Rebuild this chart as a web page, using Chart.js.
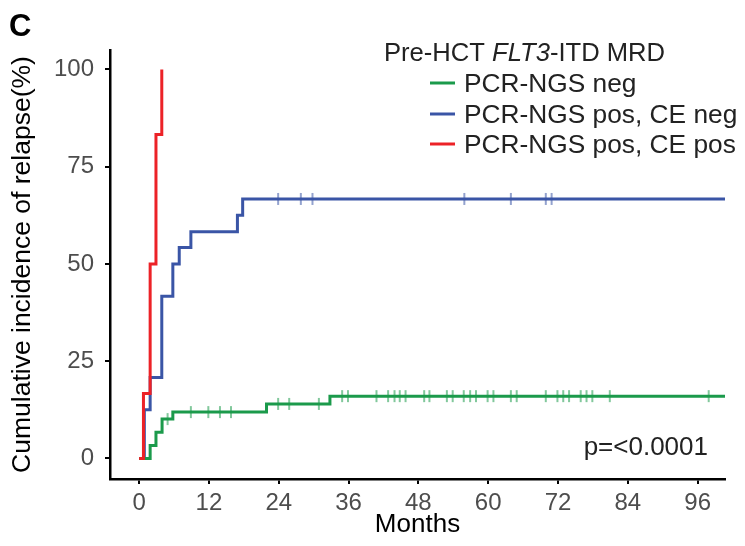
<!DOCTYPE html>
<html>
<head>
<meta charset="utf-8">
<script src="https://cdn.jsdelivr.net/npm/chart.js@4.4.0/dist/chart.umd.min.js"></script>
<style>
  html, body { margin: 0; padding: 0; background: #fff; }
  #wrap { width: 745px; height: 546px; position: relative; }
</style>
</head>
<body>
<div id="wrap"><canvas id="cirChart"></canvas></div>
<script>
// Step curves: event times (months) and cumulative incidence (%)
const negTimes = [0, 1.9, 2.9, 3.95, 5.8, 21.9, 32.8, 100.7]
const negValues = [0, 3.3, 6.7, 10.1, 11.9, 14.0, 16.0, 16.0]
const negCensor = [4.9, 8.9, 11.9, 13.9, 15.8, 23.9, 25.8, 30.9, 34.9, 35.9, 40.8, 42.8, 43.9, 44.8, 45.8,
  49.0, 49.9, 52.9, 53.9, 55.8, 56.9, 57.9, 59.9, 60.9, 63.9, 64.9, 69.9, 71.9, 72.9, 73.9, 75.9, 76.9,
  77.9, 80.9, 97.9]

const ceNegTimes = [0, 0.9, 1.9, 3.9, 5.8, 6.9, 8.9, 16.9, 17.8, 100.7]
const ceNegValues = [0, 12.5, 20.8, 41.7, 50, 54.2, 58.3, 62.5, 66.7, 66.7]
const ceNegCensor = [23.9, 27.8, 29.8, 55.9, 63.9, 69.9, 70.9]

const cePosTimes = [0, 0.75, 1.9, 2.9, 3.9]
const cePosValues = [0, 16.7, 50, 83.3, 100]

const monthTicks = [0, 12, 24, 36, 48, 60, 72, 84, 96]
const pctTicks = [0, 25, 50, 75, 100]

const seriesLabels = ["PCR-NGS neg", "PCR-NGS pos, CE neg", "PCR-NGS pos, CE pos"]
const GREEN = "#1b9a4b"
const BLUE = "#3a55a6"
const RED = "#ec2227"
const FONT = '"Liberation Sans", Arial, sans-serif'

function toPoints(times, values) {
  return times.map((t, i) => ({ x: t, y: values[i] }))
}

// censor ticks sit on the curve level at that time
function censorPoints(censor, times, values) {
  return censor.map((t) => {
    let y = values[0]
    times.forEach((tt, i) => { if (tt <= t) y = values[i] })
    return { x: t, y: y }
  })
}

function stepSet(label, data, color, order) {
  return {
    label: label,
    data: data,
    borderColor: color,
    borderWidth: 3,
    stepped: true,
    pointRadius: 0,
    fill: false,
    order: order,
  }
}

function censorSet(data, color, order) {
  return {
    data: data,
    showLine: false,
    pointStyle: "line",
    rotation: 90,
    pointRadius: 6,
    borderWidth: 2,
    borderColor: color,
    backgroundColor: color,
    order: order,
  }
}

// legend, panel letter and p value
const extrasPlugin = {
  id: "extras",
  afterDraw(chart) {
    const ctx = chart.ctx
    ctx.save()
    ctx.fillStyle = "#000"
    ctx.textBaseline = "alphabetic"
    ctx.font = "bold 31px " + FONT
    ctx.fillText("C", 9, 36)

    // legend title with italic gene name
    ctx.textBaseline = "middle"
    ctx.fillStyle = "#222"
    let x = 384
    const ty = 54
    ctx.font = "25.6px " + FONT
    ctx.fillText("Pre-HCT ", x, ty)
    x += ctx.measureText("Pre-HCT ").width
    ctx.font = "italic 25.6px " + FONT
    ctx.fillText("FLT3", x, ty)
    x += ctx.measureText("FLT3").width
    ctx.font = "25.6px " + FONT
    ctx.fillText("-ITD MRD", x, ty)

    const colors = [GREEN, BLUE, RED]
    const rows = [83, 114, 144]
    ctx.font = "26.3px " + FONT
    seriesLabels.forEach((lab, i) => {
      ctx.strokeStyle = colors[i]
      ctx.lineWidth = 3
      ctx.beginPath()
      ctx.moveTo(430, rows[i])
      ctx.lineTo(455, rows[i])
      ctx.stroke()
      ctx.fillText(lab, 464, rows[i] + 2)
    })

    ctx.font = "26px " + FONT
    ctx.textAlign = "right"
    ctx.fillText("p=<0.0001", 708, 448)
    ctx.restore()
  },
}

const ctx = document.getElementById("cirChart").getContext("2d")
const cirChart = new Chart(ctx, {
  type: "line",
  data: {
    datasets: [
      stepSet(seriesLabels[2], toPoints(cePosTimes, cePosValues), RED, 0),
      stepSet(seriesLabels[0], toPoints(negTimes, negValues), GREEN, 2),
      censorSet(censorPoints(negCensor, negTimes, negValues), "rgba(27,154,75,0.55)", 1),
      stepSet(seriesLabels[1], toPoints(ceNegTimes, ceNegValues), BLUE, 4),
      censorSet(censorPoints(ceNegCensor, ceNegTimes, ceNegValues), "rgba(58,85,166,0.55)", 3),
    ],
  },
  options: {
    responsive: true,
    maintainAspectRatio: false,
    animation: false,
    layout: { padding: { top: 50, right: 20, left: 0, bottom: 0 } },
    plugins: {
      legend: { display: false },
      tooltip: { enabled: false },
    },
    scales: {
      x: {
        type: "linear",
        min: -5,
        max: 100.7,
        afterBuildTicks: (s) => { s.ticks = monthTicks.map((v) => ({ value: v })) },
        afterFit: (s) => { s.height = 67 },
        border: { color: "#000", width: 2.5 },
        grid: { drawOnChartArea: false, color: "#000", lineWidth: 2, tickLength: 5 },
        ticks: {
          color: "#4d4d4d",
          font: { size: 24, family: FONT },
          padding: 5,
          maxRotation: 0,
          autoSkip: false,
        },
        title: {
          display: true,
          text: "Months",
          color: "#000",
          font: { size: 26, family: FONT },
          padding: { top: 0, bottom: 6 },
        },
      },
      y: {
        type: "linear",
        min: -5.3,
        max: 105,
        afterBuildTicks: (s) => { s.ticks = pctTicks.map((v) => ({ value: v })) },
        afterFit: (s) => { s.width = 110 },
        border: { color: "#000", width: 2.5 },
        grid: { drawOnChartArea: false, color: "#000", lineWidth: 2, tickLength: 5 },
        ticks: {
          color: "#4d4d4d",
          font: { size: 24, family: FONT },
          padding: 11,
        },
        title: {
          display: true,
          text: "Cumulative incidence of relapse(%)",
          color: "#000",
          font: { size: 26.5, family: FONT },
          padding: { top: 7, bottom: 0 },
        },
      },
    },
  },
  plugins: [extrasPlugin],
})
</script>
</body>
</html>
